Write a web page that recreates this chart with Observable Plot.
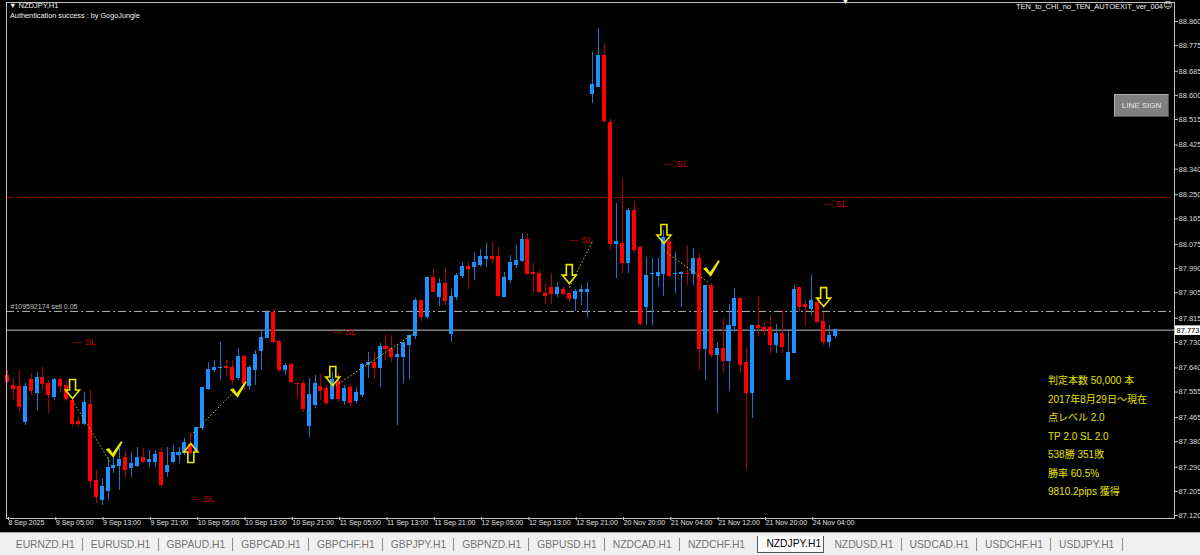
<!DOCTYPE html>
<html><head><meta charset="utf-8">
<script src="https://cdn.jsdelivr.net/npm/d3@7"></script>
<script src="https://cdn.jsdelivr.net/npm/@observablehq/plot@0.6"></script>
<style>
html,body{margin:0;padding:0;background:#000;width:1200px;height:555px;overflow:hidden;}
#wrap{position:relative;width:1200px;height:532px;background:#000;}
.ov{position:absolute;white-space:nowrap;font-family:"Liberation Sans","Noto Sans CJK JP",sans-serif;line-height:1;}
#tabs{position:relative;width:1200px;height:23px;background:#f0f0f0;border-top:1px solid #a0a0a0;box-sizing:border-box;font-family:"Liberation Sans",sans-serif;display:flex;align-items:center;padding-left:8px;}
#tabs span.t{font-size:10.3px;color:#737373;padding:0 8.3px 0 7.8px;height:17px;line-height:17px;position:relative;flex:none;}
#tabs span.t.sep::after{content:"";position:absolute;right:0;top:2px;height:13px;border-right:1px solid #8a8a8a;}
#tabs span.t.act{background:#fff;color:#000;border:1px solid #555;border-top:none;height:16px;line-height:16px;padding:0 2px 0 8px;margin:0 2.5px 0 4px;}
#btn{position:absolute;left:1114px;top:94px;width:55px;height:23px;box-sizing:border-box;background:#808080;border:1px solid;border-color:#b0b0b0 #505050 #505050 #b0b0b0;color:#e6e6e6;font:8px "Liberation Sans",sans-serif;display:flex;align-items:center;justify-content:center;}
</style></head>
<body>
<div id="wrap"></div>
<div id="tabs"></div>
<script>
// ---- data ----
const opens = [
87.613,87.578,87.571,87.451,87.599,87.553,87.603,87.585,87.536,87.599,
87.578,87.525,87.448,87.444,87.511,87.243,87.173,87.208,87.286,87.293,
87.324,87.286,87.296,87.324,87.307,87.307,87.339,87.272,87.307,87.335,
87.339,87.367,87.349,87.427,87.564,87.634,87.638,87.643,87.641,87.603,
87.677,87.578,87.634,87.698,87.744,87.832,87.733,87.634,87.652,87.585,
87.585,87.437,87.508,87.571,87.564,87.532,87.589,87.525,87.568,87.525,
87.543,87.649,87.656,87.641,87.715,87.705,87.677,87.677,87.722,87.751,
87.874,87.821,87.958,87.888,87.934,87.758,87.888,87.962,87.997,87.994,
88.004,88.025,88.032,88.029,87.891,87.951,88.001,88.015,88.092,87.976,
87.972,87.902,87.920,87.902,87.916,87.902,87.881,87.906,87.909,88.606,
88.631,88.740,88.504,88.075,88.078,88.011,88.194,88.061,87.856,87.969,
87.965,87.972,88.082,87.969,87.969,87.972,87.972,88.025,87.705,87.927,
87.684,87.705,87.663,87.786,87.884,87.656,87.550,87.789,87.779,87.782,
87.719,87.758,87.599,87.691,87.920,87.860,87.849,87.870,87.803,87.733,
87.751];
const highs = [
87.631,87.603,87.631,87.585,87.620,87.624,87.641,87.596,87.603,87.606,
87.596,87.536,87.465,87.553,87.560,87.279,87.250,87.324,87.339,87.356,
87.342,87.342,87.360,87.356,87.349,87.349,87.360,87.360,87.367,87.360,
87.391,87.413,87.430,87.571,87.659,87.666,87.730,87.666,87.666,87.708,
87.684,87.649,87.701,87.772,87.842,87.849,87.737,87.656,87.659,87.588,
87.596,87.603,87.613,87.617,87.578,87.624,87.620,87.578,87.582,87.571,
87.656,87.694,87.694,87.726,87.754,87.754,87.719,87.730,87.758,87.884,
87.874,87.958,87.987,87.955,87.990,87.916,87.972,88.011,88.011,88.047,
88.057,88.078,88.082,88.064,87.976,88.036,88.071,88.113,88.113,88.008,
87.983,87.937,87.972,87.941,87.923,87.906,87.916,87.930,87.941,88.751,
88.835,88.779,88.515,88.219,88.307,88.201,88.223,88.068,88.029,88.025,
88.025,88.124,88.113,88.047,87.980,88.071,88.061,88.043,87.930,87.937,
87.730,87.814,87.863,87.920,87.888,87.708,87.789,87.892,87.800,87.821,
87.793,87.842,87.768,87.930,87.920,87.877,87.965,87.877,87.835,87.789,
87.775];
const lows = [
87.585,87.525,87.483,87.437,87.543,87.490,87.560,87.479,87.525,87.550,
87.522,87.430,87.430,87.437,87.215,87.162,87.155,87.173,87.268,87.208,
87.254,87.254,87.289,87.303,87.289,87.289,87.219,87.254,87.303,87.303,
87.332,87.332,87.349,87.420,87.560,87.624,87.596,87.613,87.578,87.596,
87.560,87.560,87.578,87.631,87.744,87.726,87.624,87.613,87.585,87.532,
87.483,87.395,87.497,87.525,87.508,87.525,87.518,87.508,87.504,87.515,
87.536,87.603,87.599,87.571,87.666,87.659,87.437,87.585,87.599,87.740,
87.804,87.811,87.906,87.856,87.860,87.730,87.877,87.955,87.916,87.948,
87.994,87.994,88.008,87.888,87.888,87.937,87.990,88.011,87.969,87.906,
87.902,87.863,87.863,87.888,87.895,87.870,87.839,87.860,87.818,88.571,
88.628,88.501,88.053,87.955,87.972,87.972,88.043,87.789,87.789,87.789,
87.923,87.892,87.958,87.902,87.853,87.930,87.930,87.631,87.596,87.673,
87.479,87.620,87.557,87.765,87.624,87.282,87.462,87.751,87.754,87.691,
87.691,87.691,87.596,87.691,87.835,87.786,87.825,87.796,87.719,87.712,
87.744];
const closes = [
87.592,87.564,87.501,87.571,87.557,87.603,87.585,87.543,87.596,87.578,
87.529,87.444,87.444,87.515,87.243,87.184,87.219,87.289,87.293,87.317,
87.279,87.300,87.324,87.307,87.314,87.335,87.226,87.293,87.339,87.342,
87.374,87.339,87.427,87.568,87.634,87.641,87.641,87.640,87.599,87.677,
87.585,87.638,87.687,87.744,87.835,87.733,87.631,87.645,87.592,87.582,
87.497,87.543,87.585,87.557,87.518,87.599,87.532,87.564,87.518,87.550,
87.649,87.659,87.638,87.712,87.705,87.677,87.684,87.726,87.751,87.874,
87.821,87.955,87.909,87.934,87.874,87.888,87.965,87.997,87.987,88.008,
88.029,88.029,88.025,87.895,87.955,88.011,88.018,88.089,87.972,87.972,
87.906,87.895,87.902,87.920,87.902,87.884,87.909,87.916,87.913,88.635,
88.740,88.508,88.078,88.085,88.011,88.194,88.057,87.796,87.965,87.972,
87.976,88.096,87.965,87.972,87.976,87.969,88.025,87.705,87.927,87.684,
87.705,87.663,87.789,87.884,87.649,87.550,87.789,87.779,87.775,87.722,
87.758,87.715,87.694,87.916,87.853,87.853,87.877,87.803,87.733,87.751,
87.773];

const timeTickBars = [0,8,16,24,32,40,48,56,64,72,80,88,96,104,112,120,128,136];
const timeTickLabels = ["8 Sep 2025","9 Sep 05:00","9 Sep 13:00","9 Sep 21:00","10 Sep 05:00","10 Sep 13:00","10 Sep 21:00","11 Sep 05:00","11 Sep 13:00","11 Sep 21:00","12 Sep 05:00","12 Sep 13:00","12 Sep 21:00","20 Nov 20:00","21 Nov 04:00","21 Nov 12:00","21 Nov 20:00","24 Nov 04:00"];
const priceTicks = [88.860,88.775,88.685,88.600,88.515,88.425,88.340,88.250,88.165,88.075,87.990,87.905,87.815,87.730,87.640,87.555,87.465,87.380,87.290,87.205,87.120];

const lastPrice = 87.773;
const orderPrice = 87.839;
const orderLabel = "#109592174 sell 0.05";
const stopLinePrice = 88.240;

const sellArrowBars = [11,55,95,111,138];
const sellArrowPrices = [87.532,87.578,87.937,88.078,87.856];
const buyArrowBars = [31];
const buyArrowPrices = [87.374];
const checkBars = [18,39,119];
const checkPrices = [87.353,87.564,87.990];
const tradeFromBars = [11,31,55,95,111];
const tradeFromPrices = [87.525,87.402,87.571,87.923,88.053];
const tradeToBars = [17.4,38.5,69,99,118.5];
const tradeToPrices = [87.307,87.560,87.765,88.089,87.941];
const slBars = [11,31,55,95,111,138];
const slPrices = [87.730,87.180,87.768,88.092,88.357,88.216];

const symbolLabel = "NZDJPY,H1";
const authLabel = "Authentication success : by GogoJungle";
const eaLabel = "TEN_to_CHI_no_TEN_AUTOEXIT_ver_004";
const buttonLabel = "LINE SIGN";
const infoLines = ["判定本数 50,000 本","2017年8月29日～現在","点レベル 2.0","TP 2.0 SL 2.0","538勝 351敗","勝率 60.5%","9810.2pips 獲得"];
const tabNames = ["EURNZD.H1","EURUSD.H1","GBPAUD.H1","GBPCAD.H1","GBPCHF.H1","GBPJPY.H1","GBPNZD.H1","GBPUSD.H1","NZDCAD.H1","NZDCHF.H1","NZDJPY.H1","NZDUSD.H1","USDCAD.H1","USDCHF.H1","USDJPY.H1"];
const activeTab = "NZDJPY.H1";

// ---- build ----
const candles = opens.map((o, i) => ({i, o, h: highs[i], l: lows[i], c: closes[i], up: closes[i] >= o}));
const sells = sellArrowBars.map((b, k) => ({b, p: sellArrowPrices[k]}));
const buys = buyArrowBars.map((b, k) => ({b, p: buyArrowPrices[k]}));
const checks = checkBars.map((b, k) => ({b, p: checkPrices[k]}));
const trades = tradeFromBars.map((b, k) => ({b1: b, p1: tradeFromPrices[k], b2: tradeToBars[k], p2: tradeToPrices[k]}));
const sls = slBars.map((b, k) => ({b, p: slPrices[k]}));

const downArrow = {draw(ctx, size) { const s = Math.sqrt(size / Math.PI);
  ctx.moveTo(-0.3*s, -1.9*s); ctx.lineTo(0.3*s, -1.9*s); ctx.lineTo(0.3*s, -0.85*s); ctx.lineTo(0.7*s, -0.85*s);
  ctx.lineTo(0, 0); ctx.lineTo(-0.7*s, -0.85*s); ctx.lineTo(-0.3*s, -0.85*s); ctx.closePath(); }};
const upArrow = {draw(ctx, size) { const s = Math.sqrt(size / Math.PI);
  ctx.moveTo(-0.3*s, 1.9*s); ctx.lineTo(0.3*s, 1.9*s); ctx.lineTo(0.3*s, 0.85*s); ctx.lineTo(0.7*s, 0.85*s);
  ctx.lineTo(0, 0); ctx.lineTo(-0.7*s, 0.85*s); ctx.lineTo(-0.3*s, 0.85*s); ctx.closePath(); }};
const checkMark = {draw(ctx, size) { const s = Math.sqrt(size / Math.PI);
  ctx.moveTo(-0.95*s, 0.0); ctx.lineTo(-0.55*s, -0.15*s); ctx.lineTo(-0.15*s, 0.42*s); ctx.lineTo(0.8*s, -0.95*s);
  ctx.lineTo(1.0*s, -0.86*s); ctx.lineTo(-0.05*s, 0.95*s); ctx.closePath(); }};
const priceBox = {draw(ctx) { ctx.rect(-12.5, -4.8, 25, 9.6); }};

const chart = Plot.plot({
  width: 1200, height: 532,
  marginLeft: 6, marginRight: 26, marginTop: 2, marginBottom: 14,
  style: {background: "#000", color: "#c8c8c8", fontFamily: "'Liberation Sans', sans-serif", overflow: "visible"},
  x: {type: "linear", domain: [-0.169, 197.33]},
  y: {type: "linear", domain: [87.1096, 88.927]},
  color: {type: "identity"},
  marks: [
    Plot.ruleY([stopLinePrice], {stroke: "#a00000", strokeDasharray: "8,3,2,3"}),
    Plot.ruleY([orderPrice], {stroke: "#b8b8b8", strokeDasharray: "8,3,2,3"}),
    Plot.ruleY([lastPrice], {stroke: "#c0c0c0", strokeWidth: 1}),
    Plot.text([orderLabel], {frameAnchor: "left", y: () => orderPrice, dx: 4, dy: -5, textAnchor: "start", fill: "#c0c0c0", fontSize: 7}),
    Plot.ruleX(candles, {x: "i", y1: "l", y2: "h", stroke: d => d.up ? "#1a74cc" : "#b40000", strokeWidth: 1, shapeRendering: "crispEdges"}),
    Plot.rect(candles, {x1: d => d.i - 0.34, x2: d => d.i + 0.34, y1: "o", y2: "c", fill: d => d.up ? "#1e90ff" : "#ff0000", insetTop: -0.5, insetBottom: -0.5, shapeRendering: "crispEdges"}),
    Plot.link(trades, {x1: "b1", y1: "p1", x2: "b2", y2: "p2", stroke: "#c8c800", strokeWidth: 1, strokeDasharray: "1.5,2"}),
    Plot.dot(sells, {x: "b", y: "p", symbol: downArrow, r: 10, fill: "none", stroke: "#e8e800", strokeWidth: 1.6}),
    Plot.dot(buys, {x: "b", y: "p", symbol: upArrow, r: 10, fill: "none", stroke: "#e8e800", strokeWidth: 1.6}),
    Plot.dot(checks, {x: "b", y: "p", symbol: checkMark, r: 8.7, fill: "#e8e800", stroke: "none"}),
    Plot.text(sls, {x: "b", y: "p", text: () => "— SL", textAnchor: "start", fill: "#c80000", fontSize: 9.5}),
    Plot.frame({stroke: "#c0c0c0"}),
    Plot.axisX(timeTickBars, {anchor: "bottom", tickSize: 3, tickPadding: 0, textAnchor: "start", dx: 1, dy: -1, fontSize: 7, tickFormat: d => timeTickLabels[timeTickBars.indexOf(d)], fill: "#e0e0e0"}),
    Plot.axisY(priceTicks, {anchor: "right", tickSize: 3, tickPadding: 1, fontSize: 7.5, tickFormat: d => d.toFixed(3), fill: "#d8d8d8"}),
    Plot.dot([lastPrice], {y: d => d, frameAnchor: "right", dx: 13, symbol: priceBox, r: 1, fill: "#fff", stroke: "none"}),
    Plot.text([lastPrice], {y: d => d, frameAnchor: "right", dx: 2, textAnchor: "start", text: d => d.toFixed(3), fill: "#000", fontSize: 7.5})
  ]
});
const wrap = document.getElementById("wrap");
wrap.appendChild(chart);

function ov(text, css) { const d = document.createElement("div"); d.className = "ov"; d.textContent = text; Object.assign(d.style, css); wrap.appendChild(d); return d; }
ov("▼ " + symbolLabel, {left: "9px", top: "2px", fontSize: "7.5px", color: "#f0f0f0"});
ov(authLabel, {left: "10px", top: "12px", fontSize: "7.3px", color: "#f0f0f0"});
ov(eaLabel, {right: "37px", top: "3px", fontSize: "7.5px", color: "#f0f0f0"});
ov("☺", {left: "1163px", top: "1px", fontSize: "9px", color: "#f0f0f0", fontFamily: "'DejaVu Sans', sans-serif"});
ov("▼", {left: "842px", top: "-2px", fontSize: "7px", color: "#ffffff"});
const btn = document.createElement("div"); btn.id = "btn"; btn.textContent = buttonLabel; wrap.appendChild(btn);
infoLines.forEach((t, k) => ov(t, {left: "1048px", top: (376 + k * 18.5) + "px", fontSize: "10px", color: "#e2e200"}));

const tabs = document.getElementById("tabs");
tabNames.forEach((n, k) => {
  const s = document.createElement("span");
  s.className = "t" + (n === activeTab ? " act" : "") + (n !== activeTab && tabNames[k + 1] !== activeTab ? " sep" : "");
  s.textContent = n; tabs.appendChild(s);
});
</script>
</body></html>
